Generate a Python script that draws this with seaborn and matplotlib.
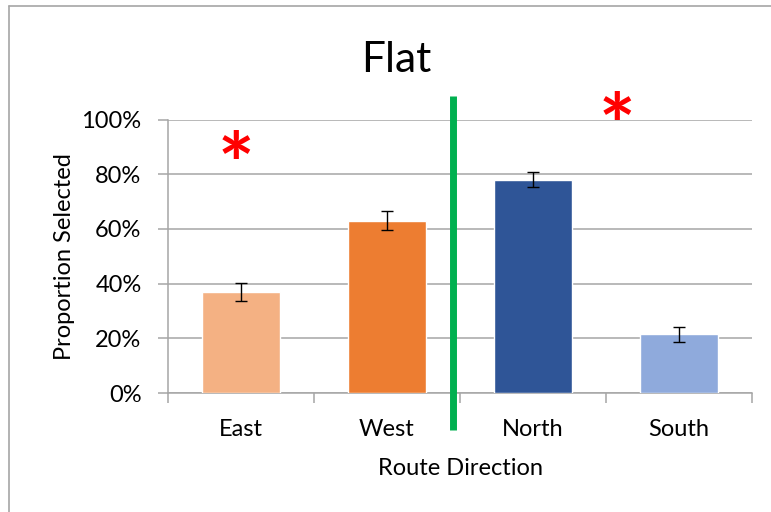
import matplotlib
matplotlib.use("Agg")
import matplotlib.pyplot as plt
from matplotlib.lines import Line2D
from matplotlib.ticker import PercentFormatter
import pandas as pd
import seaborn as sns

# Data
directions = ["East", "West", "North", "South"]
proportions = [0.37, 0.63, 0.78, 0.215]
errors = [0.033, 0.034, 0.028, 0.027]
bar_colors = ["#F4B183", "#ED7D31", "#2F5597", "#8FAADC"]
y_ticks = [0.0, 0.2, 0.4, 0.6, 0.8, 1.0]

sns.set_theme(style="white")
plt.rcParams["font.family"] = ["Lato", "DejaVu Sans"]

df = pd.DataFrame({"Direction": directions, "Proportion": proportions})

fig = plt.figure(figsize=(7.71, 5.12), dpi=100)
ax = fig.add_axes([168 / 771, 1 - 393 / 512, (752 - 168) / 771, (393 - 119.5) / 512])

sns.barplot(data=df, x="Direction", y="Proportion", hue="Direction",
            palette=bar_colors, width=0.54, legend=False, ax=ax,
            saturation=1, zorder=3, errorbar=None)

ax.errorbar(range(len(directions)), proportions, yerr=errors, fmt="none",
            ecolor="black", elinewidth=1.0, capsize=4.5, capthick=1.0, zorder=4)

ax.set_xlim(-0.5, 3.5)
ax.set_ylim(0, 1.0)
ax.set_yticks(y_ticks)
ax.yaxis.set_major_formatter(PercentFormatter(1.0, decimals=0))

# Gridlines and axes styling
ax.grid(axis="y", color="#a6a6a6", linewidth=1.1, zorder=0)
for side in ["top", "right"]:
    ax.spines[side].set_visible(False)
ax.spines["left"].set_color("#a6a6a6")
ax.spines["bottom"].set_color("#a6a6a6")
ax.spines["left"].set_linewidth(1.1)
ax.spines["bottom"].set_linewidth(1.1)

ax.tick_params(axis="y", which="major", left=True, length=7, width=1.1,
               color="#a6a6a6", labelsize=17, pad=12, labelcolor="black")
ax.set_xticks([0, 1, 2, 3])
ax.set_xticklabels(directions)
ax.tick_params(axis="x", which="major", bottom=False, labelsize=17, pad=13,
               labelcolor="black")
# category boundary ticks on the x axis
ax.set_xticks([-0.5, 0.5, 1.5, 2.5, 3.5], minor=True)
ax.tick_params(axis="x", which="minor", bottom=True, length=7, width=1.1,
               color="#a6a6a6")

ax.set_xlabel("Route Direction", fontsize=17, labelpad=13, color="black")
ax.set_ylabel("Proportion Selected", fontsize=17, labelpad=5, color="black")

fig.text(396 / 771, 1 - 72 / 512, "Flat", fontsize=30.5, ha="center",
         va="baseline", color="black")

# Divider between the east-west and north-south pairs
ax.plot([1.454, 1.454], [1.085, -0.135], color="#00B050", linewidth=5,
        solid_capstyle="butt", clip_on=False, zorder=5)

# Significance markers
ax.text(-0.034, 0.842, "*", color="#FF0000", fontsize=62, fontweight="bold",
        ha="center", va="center_baseline", clip_on=False)
ax.text(2.573, 0.982, "*", color="#FF0000", fontsize=62, fontweight="bold",
        ha="center", va="center_baseline", clip_on=False)

# Chart frame
fig.add_artist(Line2D([9 / 771, 9 / 771], [0, 1 - 6 / 512],
                      transform=fig.transFigure, color="#a6a6a6", linewidth=1.2))
fig.add_artist(Line2D([9 / 771, 1], [1 - 6 / 512, 1 - 6 / 512],
                      transform=fig.transFigure, color="#a6a6a6", linewidth=1.2))

fig.savefig("out.png", dpi=100, facecolor="white")
